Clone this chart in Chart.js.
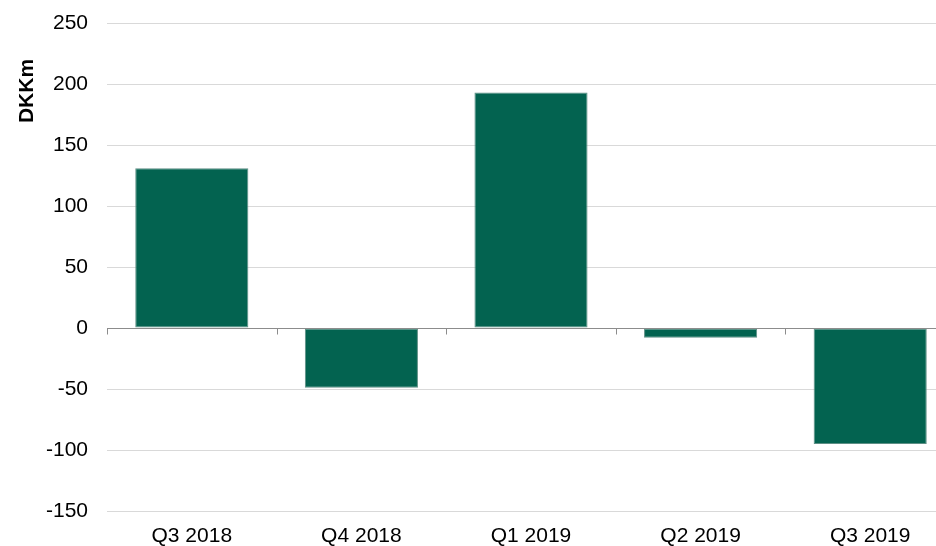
<!DOCTYPE html>
<html>
<head>
<meta charset="utf-8">
<script src="https://cdn.jsdelivr.net/npm/chart.js@4.4.1/dist/chart.umd.min.js"></script>
<style>
  html, body { margin: 0; padding: 0; background: #fff; overflow: hidden; }
  #wrap { width: 955px; height: 546px; position: relative; }
</style>
</head>
<body>
<div id="wrap"><canvas id="chart"></canvas></div>
<script>
// chart data
const quarters = ['Q3 2018', 'Q4 2018', 'Q1 2019', 'Q2 2019', 'Q3 2019'];
const values = [131, -49, 193, -8, -95];
const yTicks = [250, 200, 150, 100, 50, 0, -50, -100, -150];

const FONT = 'Arial, "Liberation Sans", sans-serif';

// zero line with small tick marks between the categories, plus the axis title
const zeroAxis = {
    id: 'zeroAxis',
    afterDatasetsDraw(chart) {
        const { ctx, scales: { x, y }, chartArea } = chart;
        const y0 = Math.round(y.getPixelForValue(0)) + 0.5;
        const half = (x.getPixelForValue(1) - x.getPixelForValue(0)) / 2;
        ctx.save();
        ctx.strokeStyle = '#8c8c8c';
        ctx.lineWidth = 1;
        ctx.beginPath();
        ctx.moveTo(chartArea.left, y0);
        ctx.lineTo(chartArea.right, y0);
        for (let i = 0; i <= quarters.length; i++) {
            const px = Math.round(x.getPixelForValue(i) - half) + 0.5;
            ctx.moveTo(px, y0);
            ctx.lineTo(px, y0 + 6);
        }
        ctx.stroke();

        ctx.fillStyle = '#000';
        ctx.font = 'bold 21px ' + FONT;
        ctx.textAlign = 'center';
        ctx.textBaseline = 'middle';
        ctx.translate(27, 91);
        ctx.rotate(-Math.PI / 2);
        ctx.fillText('DKKm', 0, 0);
        ctx.restore();
    }
};

new Chart(document.getElementById('chart'), {
    type: 'bar',
    data: {
        labels: quarters,
        datasets: [{
            data: values,
            backgroundColor: '#036350',
            borderColor: '#5e8f85',
            borderWidth: 1,
            borderSkipped: false,
            categoryPercentage: 1,
            barPercentage: 0.667
        }]
    },
    options: {
        responsive: true,
        maintainAspectRatio: false,
        animation: false,
        layout: { padding: { top: 23, left: 0, right: 0, bottom: 0 } },
        plugins: {
            legend: { display: false },
            tooltip: { enabled: false }
        },
        scales: {
            x: {
                grid: { display: false, drawTicks: false },
                border: { display: false },
                ticks: {
                    color: '#000',
                    font: { family: FONT, size: 21 },
                    padding: 13
                },
                afterFit(scale) { scale.height = 35; }
            },
            y: {
                min: -150,
                max: 250,
                afterBuildTicks(scale) {
                    scale.ticks = yTicks.map(v => ({ value: v }));
                },
                grid: {
                    color: '#d9d9d9',
                    lineWidth: 1,
                    drawTicks: false
                },
                border: { display: false },
                ticks: {
                    color: '#000',
                    font: { family: FONT, size: 21 },
                    padding: 19
                },
                afterFit(scale) {
                    scale.width = 107;
                    scale.paddingTop = 0;
                    scale.paddingBottom = 0;
                }
            }
        }
    },
    plugins: [zeroAxis]
});
</script>
</body>
</html>
